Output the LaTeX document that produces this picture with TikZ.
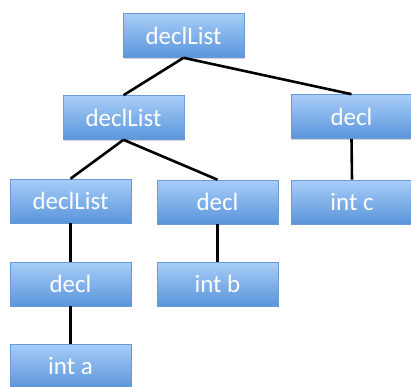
\documentclass[tikz,border=0pt]{standalone}
\usepackage{fontspec}
\setmainfont{Carlito}
\usetikzlibrary{shadows}
\definecolor{boxtop}{HTML}{A8CDF8}
\definecolor{boxbot}{HTML}{5A95DB}
\definecolor{boxedge}{HTML}{6A9AD6}
\begin{document}
\begin{tikzpicture}[x=1pt,y=-1pt,
  treebox/.style={rectangle, minimum width=121pt, minimum height=44pt,
    inner sep=0pt, top color=boxtop, bottom color=boxbot,
    draw=boxedge, line width=0.6pt, text=white,
    font=\fontsize{25}{25}\selectfont,
    drop shadow={shadow xshift=0.8pt, shadow yshift=-1.2pt, opacity=0.35}},
  link/.style={line width=2.6pt, black}]
\useasboundingbox (0,0) rectangle (411,386);
\fill[white] (0,0) rectangle (411,386);
% the tree's boxes
\path
  (183.5,35.5) node[treebox] (root) {declList}
  (123.5,117.5) node[treebox] (left) {declList}
  (351.5,116.5) node[treebox] (declc) {decl}
  (70.5,201) node[treebox] (inner) {declList}
  (217.5,202) node[treebox] (declb) {decl}
  (352,202) node[treebox] (intc) {int c}
  (70.5,284) node[treebox] (decla) {decl}
  (217.5,284) node[treebox] (intb) {int b}
  (70.5,366) node[treebox] (inta) {int a};
% parent-child links
\draw[link] (root.south) -- (left.north);
\draw[link] (root.south) -- (declc.north);
\draw[link] (left.south) -- (inner.north);
\draw[link] (left.south) -- (declb.north);
\draw[link] (declc.south) -- (intc.north);
\draw[link] (inner.south) -- (decla.north);
\draw[link] (decla.south) -- (inta.north);
\draw[link] (declb.south) -- (intb.north);
\end{tikzpicture}
\end{document}
